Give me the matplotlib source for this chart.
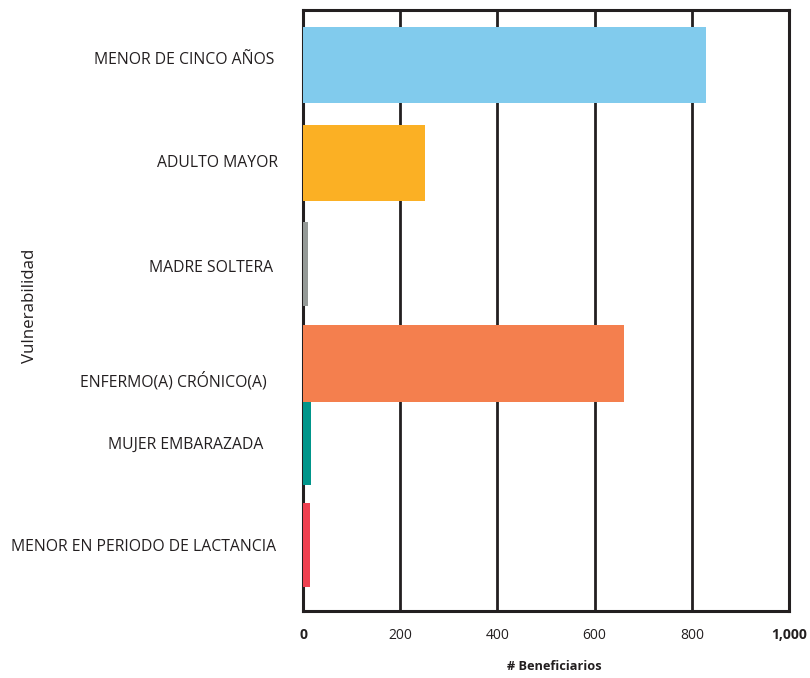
import matplotlib
matplotlib.use("Agg")
import matplotlib.pyplot as plt

plt.rcParams['font.family'] = ['Open Sans', 'DejaVu Sans']

# data
categories = ["MENOR DE CINCO AÑOS", "ADULTO MAYOR", "MADRE SOLTERA",
              "ENFERMO(A) CRÓNICO(A)", "MUJER EMBARAZADA",
              "MENOR EN PERIODO DE LACTANCIA"]
beneficiarios = [830, 252, 10, 660, 16, 14]
xticks = [0, 200, 400, 600, 800, 1000]
xtick_labels = ["0", "200", "400", "600", "800", "1,000"]

colors = ["#81CBED", "#FBB024", "#959A97", "#F47F4E", "#00958A", "#EF4050"]

# layout (vertical px from top of frame), the original is unevenly spaced
bar_pos = [55, 153, 254, 353, 433, 535]
bar_h = [76, 76, 84, 77, 83, 84]
label_pos = [50, 153, 258, 371, 435, 537]
label_right = [274, 278, 273, 267, 263, 276]  # px in figure

fig = plt.figure(figsize=(8.1, 6.78), dpi=100)
ax = fig.add_axes([303 / 810, 67 / 678, 486 / 810, 601 / 678])

ax.barh(bar_pos, beneficiarios, height=bar_h, color=colors, zorder=3)
ax.set_xlim(0, 1000)
ax.set_ylim(601, 0)

ax.set_xticks(xticks)
ax.set_xticklabels(xtick_labels, fontsize=10, color="#231f20")
for t in ax.get_xticklabels():
    if t.get_text() in ("0", "1,000"):
        t.set_fontweight("bold")
ax.tick_params(axis="x", length=0, pad=12)
ax.set_yticks([])
ax.grid(axis="x", color="#231f20", linewidth=2, zorder=1)
for s in ax.spines.values():
    s.set_linewidth(2.2)
    s.set_color("#231f20")
    s.set_zorder(2)

for name, y, xr in zip(categories, label_pos, label_right):
    ax.text(xr / 810, 1 - (y + 10) / 678, name, transform=fig.transFigure,
            ha="right", va="center", fontsize=11.3, color="#231f20")

fig.text(30 / 810, 1 - 306 / 678, "Vulnerabilidad", rotation=90,
         ha="center", va="center", fontsize=12.2, color="#231f20")
fig.text(554 / 810, 1 - 667 / 678, "# Beneficiarios", ha="center",
         va="center", fontsize=9.2, fontweight="bold", color="#231f20")

fig.savefig("out.png", dpi=100)
